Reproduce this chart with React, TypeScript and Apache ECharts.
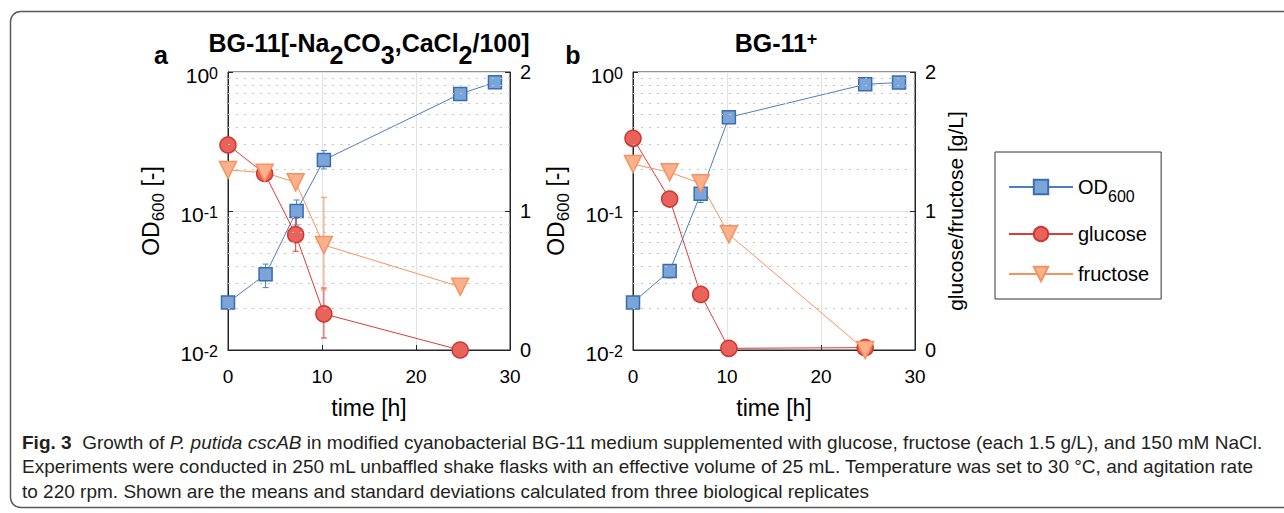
import React, { useEffect, useRef } from 'react';
import * as echarts from 'echarts';

const FONT = '"Liberation Sans", Arial, Helvetica, sans-serif';

// Panel a: BG-11[-Na2CO3,CaCl2/100]
const odTimeA = [0, 4, 7.3, 10.2, 24.7, 28.4];
const odA = [0.022, 0.035, 0.1, 0.233, 0.695, 0.843];
const odErrA = [[4, 0.0281, 0.0415], [7.3, 0.0793, 0.12], [10.2, 0.2005, 0.272]];
const sugarTimeA = [0, 3.9, 7.2, 10.2, 24.7];
const glucoseA = [1.475, 1.27, 0.83, 0.26, 0.0];
const glucoseErrA = [[7.2, 0.71, 0.95], [10.2, 0.086, 0.446]];
const fructoseA = [1.295, 1.276, 1.206, 0.755, 0.455];
const fructoseErrA = [[10.2, 0.432, 1.099]];

// Panel b: BG-11+
const odTimeB = [0, 3.9, 7.2, 10.2, 24.7, 28.3];
const odB = [0.022, 0.037, 0.133, 0.472, 0.815, 0.84];
const odErrB = [[3.9, 0.033, 0.041], [7.2, 0.115, 0.15]];
const sugarTimeB = [0, 3.9, 7.2, 10.2, 24.7];
const glucoseB = [1.523, 1.086, 0.4, 0.012, 0.017];
const glucoseErrB = [[7.2, 0.36, 0.44]];
const fructoseB = [1.338, 1.278, 1.199, 0.832, 0.0];
const fructoseErrB: number[][] = [];

const minorGridValues = [0.02, 0.03, 0.04, 0.05, 0.06, 0.07, 0.08, 0.09, 0.2, 0.3, 0.4, 0.5, 0.6, 0.7, 0.8, 0.9];
const xTicks = { min: 0, max: 30, interval: 10 };
const rightTicks = { min: 0, max: 2, interval: 1 };

const captionLines = [
  '{b|Fig. 3}  Growth of {i|P. putida cscAB} in modified cyanobacterial BG-11 medium supplemented with glucose, fructose (each 1.5 g/L), and 150 mM NaCl.',
  'Experiments were conducted in 250 mL unbaffled shake flasks with an effective volume of 25 mL. Temperature was set to 30 °C, and agitation rate',
  'to 220 rpm. Shown are the means and standard deviations calculated from three biological replicates',
];

const C = {
  od: { line: '#4a7ebf', fill: '#7ba4d8', border: '#3a6cb0' },
  glu: { line: '#de3b34', fill: '#e8635c', border: '#d1352f' },
  fru: { line: '#f7925c', fill: '#fdb08b', border: '#f6925e' },
};

const pair = (xs: number[], ys: number[]) => xs.map((x, i) => [x, ys[i]]);

function errSeries(data: number[][], xi: number, yi: number, color: string) {
  return {
    type: 'custom',
    xAxisIndex: xi,
    yAxisIndex: yi,
    coordinateSystem: 'cartesian2d',
    silent: true,
    z: 1,
    encode: { x: 0, y: [1, 2] },
    data,
    renderItem: (params: any, api: any) => {
      const x = api.value(0);
      const p1 = api.coord([x, api.value(1)]);
      const p2 = api.coord([x, api.value(2)]);
      const w = 3;
      const st = { stroke: color, lineWidth: 1 };
      return {
        type: 'group',
        children: [
          { type: 'line', shape: { x1: p1[0], y1: p1[1], x2: p2[0], y2: p2[1] }, style: st },
          { type: 'line', shape: { x1: p1[0] - w, y1: p1[1], x2: p1[0] + w, y2: p1[1] }, style: st },
          { type: 'line', shape: { x1: p2[0] - w, y1: p2[1], x2: p2[0] + w, y2: p2[1] }, style: st },
        ],
      };
    },
  };
}

function lineSeries(name: string, data: number[][], xi: number, yi: number, col: any, symbol: string, size: number, rotate = 0, extra: any = {}) {
  return {
    type: 'line',
    name,
    xAxisIndex: xi,
    yAxisIndex: yi,
    data,
    symbol,
    symbolSize: size,
    symbolRotate: rotate,
    showAllSymbol: true,
    z: 3,
    lineStyle: { color: col.line, width: 1 },
    itemStyle: { color: col.fill, borderColor: col.border, borderWidth: 1.5, opacity: 1 },
    emphasis: { disabled: true },
    ...extra,
  };
}

const axisColor = '#262626';

function makeAxes(gi: number, rightName: string) {
  const x = {
    gridIndex: gi,
    type: 'value',
    min: xTicks.min,
    max: xTicks.max,
    interval: xTicks.interval,
    axisLine: { show: true, onZero: false, lineStyle: { color: axisColor } },
    axisTick: { show: true, inside: true, length: 5, lineStyle: { color: axisColor } },
    axisLabel: { fontSize: 19, color: '#000', margin: 17, fontFamily: FONT },
    splitLine: { show: true, lineStyle: { color: '#e3e3e3', width: 1 } },
    name: 'time [h]',
    nameLocation: 'middle',
    nameGap: 46,
    nameTextStyle: { fontSize: 23, color: '#000', fontFamily: FONT },
  };
  const yl = {
    gridIndex: gi,
    type: 'log',
    logBase: 10,
    min: 0.01,
    max: 1,
    position: 'left',
    axisLine: { show: true, onZero: false, lineStyle: { color: axisColor } },
    axisTick: { show: true, inside: true, length: 5, lineStyle: { color: axisColor } },
    axisLabel: {
      margin: 10,
      fontSize: 21,
      fontFamily: FONT,
      color: '#000',
      padding: [7, 0, 0, 0],
      formatter: (v: number) => `{m|10}{s|${Math.round(Math.log10(v))}}`,
      rich: {
        m: { fontSize: 21, lineHeight: 21, padding: [5, 0, 0, 0], verticalAlign: 'bottom', color: '#000', fontFamily: FONT },
        s: { fontSize: 16, lineHeight: 16, verticalAlign: 'top', color: '#000', fontFamily: FONT },
      },
    },
    splitLine: { show: true, lineStyle: { color: '#e3e3e3', width: 1 } },
    name: '{a|OD}{s|600}{a| [-]}',
    nameLocation: 'middle',
    nameRotate: 90,
    nameGap: 61,
    nameTextStyle: {
      rich: {
        a: { fontSize: 23, color: '#000', fontFamily: FONT, verticalAlign: 'middle' },
        s: { fontSize: 17, color: '#000', fontFamily: FONT, padding: [16, 0, 0, 0], verticalAlign: 'middle' },
      },
    },
  };
  const yr: any = {
    gridIndex: gi,
    type: 'value',
    min: rightTicks.min,
    max: rightTicks.max,
    interval: rightTicks.interval,
    position: 'right',
    axisLine: { show: true, onZero: false, lineStyle: { color: axisColor } },
    axisTick: { show: true, inside: true, length: 5, lineStyle: { color: axisColor } },
    axisLabel: { fontSize: 20, color: '#000', margin: 10, fontFamily: FONT, padding: [5, 0, 0, 0] },
    splitLine: { show: false },
  };
  if (rightName) {
    yr.name = rightName;
    yr.nameLocation = 'middle';
    yr.nameRotate = 90;
    yr.nameGap = 30;
    yr.nameTextStyle = { fontSize: 21, color: '#000', fontFamily: FONT, padding: [0, 0, 0, 0] };
  }
  return { x, yl, yr };
}

const minorMarkLine = {
  silent: true,
  symbol: 'none',
  label: { show: false },
  animation: false,
  lineStyle: { color: '#c4c4c4', type: [2, 6], width: 1 },
  emphasis: { disabled: true },
  data: minorGridValues.map((v) => ({ yAxis: v })),
};

export default function App() {
  const ref = useRef<HTMLDivElement>(null);
  useEffect(() => {
    if (!ref.current) return;
    const chart = echarts.init(ref.current, undefined, { renderer: 'svg' });
    const A = makeAxes(0, '');
    const B = makeAxes(1, 'glucose/fructose [g/L]');
    const option: any = {
      animation: false,
      backgroundColor: '#fff',
      textStyle: { fontFamily: FONT },
      grid: [
        { left: 228, top: 72, width: 282, height: 278, show: true, borderColor: axisColor, borderWidth: 1, backgroundColor: 'transparent' },
        { left: 633, top: 72, width: 282, height: 278, show: true, borderColor: axisColor, borderWidth: 1, backgroundColor: 'transparent' },
      ],
      xAxis: [A.x, B.x],
      yAxis: [A.yl, A.yr, B.yl, B.yr],
      legend: {
        data: ['OD600', 'glucose', 'fructose'],
        orient: 'vertical',
        left: 995,
        top: 152,
        padding: [18, 12, 15, 13],
        itemWidth: 64,
        itemHeight: 18,
        itemGap: 20,
        borderColor: '#333',
        borderWidth: 1,
        selectedMode: false,
        formatter: (n: string) => (n === 'OD600' ? '{a|OD}{s|600}' : `{a|${n}}`),
        textStyle: {
          rich: {
            a: { fontSize: 20, color: '#000', fontFamily: FONT, lineHeight: 24, verticalAlign: 'middle' },
            s: { fontSize: 16, color: '#000', fontFamily: FONT, lineHeight: 16, padding: [18, 0, 0, 0], verticalAlign: 'middle' },
          },
        },
      },
      series: [
        errSeries(odErrA, 0, 0, C.od.line),
        errSeries(glucoseErrA, 0, 1, C.glu.line),
        errSeries(fructoseErrA, 0, 1, C.fru.line),
        lineSeries('OD600', pair(odTimeA, odA), 0, 0, C.od, 'rect', 13, 0, { markLine: minorMarkLine }),
        lineSeries('glucose', pair(sugarTimeA, glucoseA), 0, 1, C.glu, 'circle', 16),
        lineSeries('fructose', pair(sugarTimeA, fructoseA), 0, 1, C.fru, 'triangle', 17, 180),
        errSeries(odErrB, 1, 2, C.od.line),
        errSeries(glucoseErrB, 1, 3, C.glu.line),
        errSeries(fructoseErrB, 1, 3, C.fru.line),
        lineSeries('OD600', pair(odTimeB, odB), 1, 2, C.od, 'rect', 13, 0, { markLine: minorMarkLine }),
        lineSeries('glucose', pair(sugarTimeB, glucoseB), 1, 3, C.glu, 'circle', 16),
        lineSeries('fructose', pair(sugarTimeB, fructoseB), 1, 3, C.fru, 'triangle', 17, 180),
      ],
      graphic: [
        {
          type: 'rect',
          shape: { x: 10.5, y: 11.5, width: 1300, height: 496, r: 10 },
          style: { fill: 'none', stroke: '#5a5a5a', lineWidth: 1.5 },
          silent: true,
        },
        { type: 'text', x: 161, y: 55, style: { text: 'a', fontSize: 25, fontWeight: 'bold', fontFamily: FONT, fill: '#000', align: 'center', verticalAlign: 'middle' } },
        { type: 'text', x: 573, y: 55, style: { text: 'b', fontSize: 25, fontWeight: 'bold', fontFamily: FONT, fill: '#000', align: 'center', verticalAlign: 'middle' } },
        {
          type: 'text',
          x: 369,
          y: 43,
          style: {
            text: '{m|BG-11[-Na}{s|2}{m|CO}{s|3}{m|,CaCl}{s|2}{m|/100]}',
            align: 'center',
            verticalAlign: 'middle',
            rich: {
              m: { fontSize: 25, fontWeight: 'bold', fontFamily: FONT, fill: '#000', lineHeight: 26, verticalAlign: 'middle' },
              s: { fontSize: 25, fontWeight: 'bold', fontFamily: FONT, fill: '#000', lineHeight: 26, padding: [24, 0, 0, 0], verticalAlign: 'middle' },
            },
          },
        },
        {
          type: 'text',
          x: 776,
          y: 43,
          style: {
            text: '{m|BG-11}{s|+}',
            align: 'center',
            verticalAlign: 'middle',
            rich: {
              m: { fontSize: 25, fontWeight: 'bold', fontFamily: FONT, fill: '#000', lineHeight: 26, verticalAlign: 'middle' },
              s: { fontSize: 18, fontWeight: 'bold', fontFamily: FONT, fill: '#000', lineHeight: 18, padding: [0, 0, 8, 0], verticalAlign: 'middle' },
            },
          },
        },
        ...captionLines.map((t, i) => ({
          type: 'text',
          x: 22,
          y: 442 + i * 24.5,
          style: {
            text: t,
            align: 'left',
            verticalAlign: 'middle',
            fontSize: 19,
            fontFamily: FONT,
            fill: '#231f20',
            rich: {
              b: { fontSize: 19, fontWeight: 'bold', fontFamily: FONT, fill: '#231f20' },
              i: { fontSize: 19, fontStyle: 'italic', fontFamily: FONT, fill: '#231f20' },
            },
          },
        })),
      ],
    };
    chart.setOption(option);
    return () => chart.dispose();
  }, []);
  return (
    <div
      ref={ref}
      style={{ position: 'fixed', left: 0, top: 0, width: 1284, height: 513, background: '#fff' }}
    />
  );
}
